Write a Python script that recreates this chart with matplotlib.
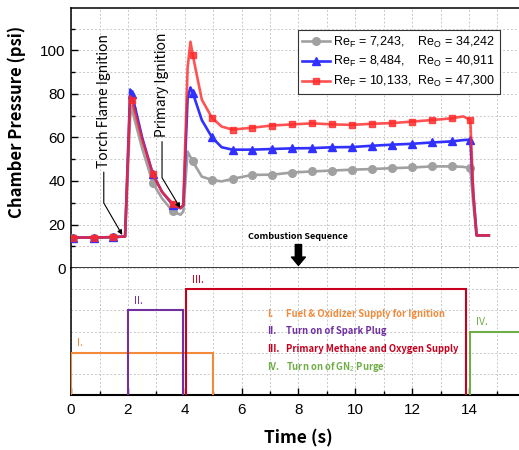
import numpy as np
import matplotlib
matplotlib.use('Agg')
import matplotlib.pyplot as plt
from matplotlib.ticker import MultipleLocator

plt.rcParams['font.family'] = ['Liberation Sans', 'DejaVu Sans']
plt.rcParams['mathtext.fontset'] = 'custom'
plt.rcParams['mathtext.rm'] = 'Liberation Sans'
plt.rcParams['mathtext.it'] = 'Liberation Sans:italic'
plt.rcParams['mathtext.bf'] = 'Liberation Sans:bold'

KR = ['Noto Sans CJK KR', 'DejaVu Sans']

# chamber pressure traces (psi) vs time (s)
t = [0.05, 0.79, 1.47, 1.9, 2.08, 2.14, 2.5, 2.88, 3.2, 3.58, 3.85, 3.95,
     4.1, 4.2, 4.28, 4.6, 4.96, 5.3, 5.68, 6.38, 7.08, 7.78, 8.49, 9.19,
     9.89, 10.6, 11.3, 12.0, 12.7, 13.4, 13.8, 14.05, 14.15, 14.27, 14.7]
t_mark = [0.05, 0.79, 1.47, 2.14, 2.88, 3.58, 4.28, 4.96, 5.68, 6.38, 7.08,
          7.78, 8.49, 9.19, 9.89, 10.6, 11.3, 12.0, 12.7, 13.4, 14.05]

p_low = [14, 14, 14.2, 14.5, 70, 73, 55, 39, 32, 26, 24.5, 26,
         53.5, 51, 49, 42, 40.5, 39.8, 41, 42.8, 42.9, 43.9, 44.4, 44.8,
         45.2, 45.5, 45.9, 46.2, 46.7, 46.7, 46.5, 45.9, 30, 15, 15]
p_mid = [14, 14, 14.2, 14.5, 82, 80, 60, 43, 35, 29, 27.5, 29,
         78, 83, 80.6, 68, 60, 55.5, 54.4, 54.4, 54.7, 55, 55.1, 55.5,
         55.6, 56.2, 56.7, 57.1, 57.7, 58.2, 58.8, 59, 35, 15, 15]
p_high = [14, 14, 14.2, 14.5, 79, 77, 59, 43, 35, 29.5, 27.5, 29,
          92, 104, 98, 77.4, 69, 65, 63.6, 64.5, 65.5, 66, 66.5, 66,
          65.8, 66.3, 66.6, 67.3, 68, 68.8, 69.7, 68, 35, 15, 15]

re_labels = ['Re$_\\mathregular{F}$ = 7,243,    Re$_\\mathregular{O}$ = 34,242',
             'Re$_\\mathregular{F}$ = 8,484,    Re$_\\mathregular{O}$ = 40,911',
             'Re$_\\mathregular{F}$ = 10,133,  Re$_\\mathregular{O}$ = 47,300']

# valve / igniter sequence
seq_names = ['I.', 'II.', 'III.', 'IV.']
seq_desc = ['Fuel & Oxidizer Supply for Ignition', 'Turn on of Spark Plug',
            'Primary Methane and Oxygen Supply', 'Turn on of GN$_2$ Purge']
seq_on = [0.0, 2.0, 4.05, 14.05]
seq_off = [5.0, 3.93, 13.9, 16.5]
seq_level = [2, 4, 5, 3]
seq_colors = ['#F28A3A', '#7030A0', '#C8001E', '#70AD47']

fig = plt.figure(figsize=(5.19, 4.5), dpi=100)
ax1 = fig.add_axes([0.137, 0.4044, 0.876, 0.5778])
ax2 = fig.add_axes([0.137, 0.1222, 0.876, 0.2822], sharex=ax1)

mask = list(np.isin(t, t_mark))
ax1.plot(t, p_low, color='#A0A0A0', lw=1.9, marker='o', ms=5.5,
         markevery=mask, label=re_labels[0], zorder=3)
ax1.plot(t, p_mid, color='#3030FF', lw=1.9, marker='^', ms=5.5,
         markevery=mask, label=re_labels[1], zorder=4)
ax1.plot(t, p_high, color='#FF2828', lw=1.9, marker='s', ms=5,
         markevery=mask, label=re_labels[2], alpha=0.8, zorder=5)

ax1.set_xlim(0, 16)
ax1.set_ylim(0, 119.5)
ax1.yaxis.set_major_locator(MultipleLocator(20))
ax1.yaxis.set_minor_locator(MultipleLocator(10))
ax1.xaxis.set_major_locator(MultipleLocator(2))
ax1.xaxis.set_minor_locator(MultipleLocator(1))
ax1.grid(which='both', ls=(0, (2, 2)), color='#C8C8C8', lw=0.7)
ax1.tick_params(axis='y', which='major', direction='in', length=5,
                width=1, labelsize=11, pad=4)
ax1.tick_params(axis='y', which='minor', direction='in', length=3, width=1)
ax1.tick_params(axis='x', which='both', length=0, labelbottom=False)
ax1.set_ylabel('Chamber Pressure (psi)', fontsize=12, fontweight='bold',
               family=KR)
ax1.yaxis.set_label_coords(-0.1, 0.56)
for s in ['left', 'top']:
    ax1.spines[s].set_linewidth(1.1)
ax1.spines['bottom'].set_linewidth(1.8)

ax1.annotate('Torch Flame Ignition', xy=(1.8, 15.2), xytext=(1.15, 46),
             rotation=90, ha='center', va='bottom', fontsize=10, family=KR,
             arrowprops=dict(arrowstyle='-|>', color='k', lw=0.8,
                             relpos=(0.5, 0), shrinkA=1, shrinkB=0,
                             mutation_scale=7,
                             connectionstyle='angle,angleA=90,angleB=120,rad=0'),
             zorder=6)
ax1.annotate('Primary Ignition', xy=(3.84, 27.6), xytext=(3.2, 60),
             rotation=90, ha='center', va='bottom', fontsize=10, family=KR,
             arrowprops=dict(arrowstyle='-|>', color='k', lw=0.8,
                             relpos=(0.5, 0), shrinkA=1, shrinkB=0,
                             mutation_scale=7,
                             connectionstyle='angle,angleA=90,angleB=121,rad=0'),
             zorder=6)

ax1.text(8, 14.4, 'Combustion Sequence', ha='center', va='center',
         fontsize=6.5, fontweight='bold', family=KR, zorder=6)
ax1.annotate('', xy=(8, 1.2), xytext=(8, 10.8),
             arrowprops=dict(arrowstyle='simple,head_width=1.0,head_length=0.6,tail_width=0.45',
                             color='k', mutation_scale=10, shrinkA=0, shrinkB=0))

leg = ax1.legend(loc='upper right', bbox_to_anchor=(0.963, 0.933),
                 bbox_transform=fig.transFigure, fontsize=9,
                 frameon=True, fancybox=False, framealpha=1, edgecolor='#333333',
                 handlelength=2.2, handletextpad=0.3, borderpad=0.35,
                 labelspacing=0.38, borderaxespad=0)
leg.get_frame().set_linewidth(0.8)

for name, on, off, lev, col in zip(seq_names, seq_on, seq_off,
                                   seq_level, seq_colors):
    ax2.plot([on, on, off, off], [0, lev, lev, 0], color=col, lw=1.5,
             solid_joinstyle='miter', zorder=3)
    ax2.text(on + 0.2, lev + 0.45, name, color=col, fontsize=7.5,
             ha='left', va='center', family=KR)

for i, (name, desc, col) in enumerate(zip(seq_names, seq_desc, seq_colors)):
    y = 3.85 - 0.84 * i
    ax2.text(6.9, y, name, color=col, fontsize=6.8, fontweight='bold',
             ha='left', va='center', family=KR)
    ax2.text(7.57, y, desc, color=col, fontsize=6.8, fontweight='bold',
             ha='left', va='center', family=KR)

ax2.set_ylim(0, 6)
ax2.set_xticks(range(0, 15, 2))
ax2.yaxis.set_major_locator(MultipleLocator(1))
ax2.grid(which='both', ls=(0, (2, 2)), color='#C8C8C8', lw=0.7)
ax2.tick_params(axis='y', which='both', length=0, labelleft=False)
ax2.tick_params(axis='x', which='major', direction='in', length=5, width=1,
                labelsize=11, pad=6)
ax2.tick_params(axis='x', which='minor', direction='in', length=3, width=1)
ax2.spines['top'].set_visible(False)
ax2.spines['left'].set_linewidth(1.1)
ax2.spines['bottom'].set_linewidth(1.5)
ax2.set_xlabel('Time (s)', fontsize=12.5, fontweight='bold', family=KR)
ax2.xaxis.set_label_coords(0.5, -0.27)

fig.savefig('out.png', dpi=100)
